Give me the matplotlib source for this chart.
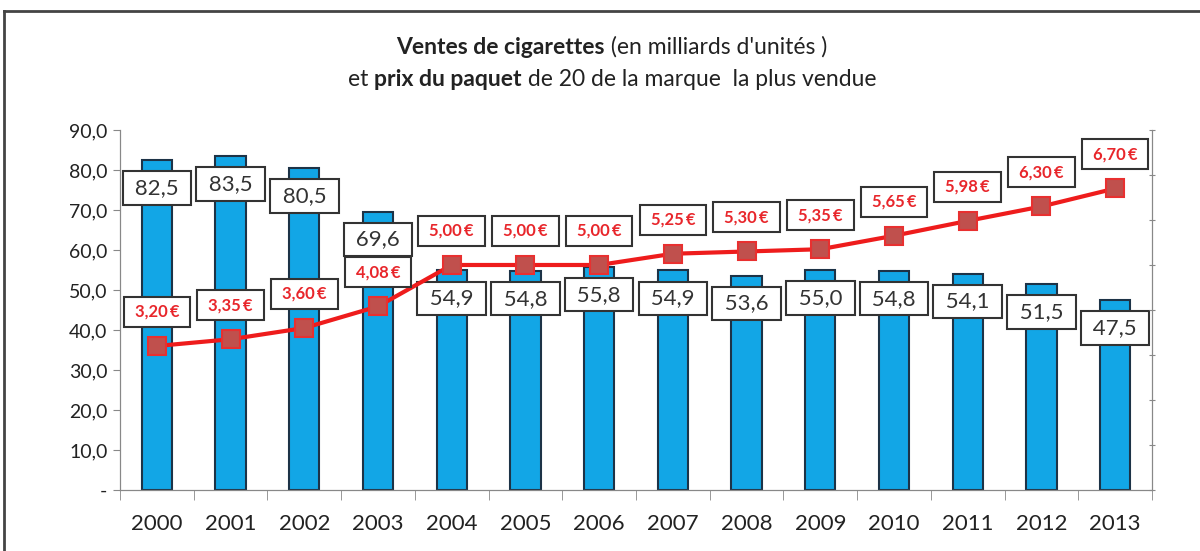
import matplotlib
matplotlib.use('Agg')
import matplotlib.pyplot as plt
from matplotlib.lines import Line2D
import numpy as np

annees = ['2000', '2001', '2002', '2003', '2004', '2005', '2006', '2007',
          '2008', '2009', '2010', '2011', '2012', '2013']
ventes = [82.5, 83.5, 80.5, 69.6, 54.9, 54.8, 55.8, 54.9, 53.6, 55.0, 54.8, 54.1, 51.5, 47.5]
prix = [3.20, 3.35, 3.60, 4.08, 5.00, 5.00, 5.00, 5.25, 5.30, 5.35, 5.65, 5.98, 6.30, 6.70]
yticks = [0, 10, 20, 30, 40, 50, 60, 70, 80, 90]

plt.rcParams['font.family'] = ['Lato', 'DejaVu Sans']

fig = plt.figure(figsize=(12, 5.51), dpi=100)
ax = fig.add_axes([0.1, 0.1107, 0.86, 0.6534])
ax2 = ax.twinx()

x = np.arange(len(annees))
ax.bar(x, ventes, width=0.41, color='#12a6e6', edgecolor='#1d3347', linewidth=1.5, zorder=2)
ax.set_xlim(-0.5, len(annees) - 0.5)
ax.set_ylim(0, 90)
ax.set_yticks(yticks)
ax.set_yticklabels(['-' if v == 0 else f'{v:.1f}'.replace('.', ',') for v in yticks], fontsize=14, color='#222222')
ax.set_xticks(x)
ax.set_xticklabels(annees, fontsize=16, color='#222222')
ax.tick_params(axis='x', which='major', length=0, pad=17)
ax.set_xticks(np.arange(-0.5, len(annees), 1), minor=True)
ax.tick_params(axis='x', which='minor', length=7, color='#888888', direction='out')
ax.tick_params(axis='y', length=5, color='#888888', pad=4)
for s in ['top']:
    ax.spines[s].set_visible(False)
    ax2.spines[s].set_visible(False)
for s in ['left', 'bottom', 'right']:
    ax.spines[s].set_color('#888888')
    ax2.spines[s].set_color('#888888')

ax2.plot(x, prix, color='#ee1c1c', linewidth=3, marker='s', markersize=13,
         markerfacecolor='#c0504d', markeredgecolor='#e83030', markeredgewidth=1.5, zorder=3)
ax2.set_ylim(0, 8)
ax2.set_yticks(range(9))
ax2.set_yticklabels([])
ax2.tick_params(axis='y', length=4, color='#888888', direction='inout')
ax.set_zorder(1)
ax2.set_zorder(2)
ax.patch.set_visible(False)

# etiquettes des ventes
for xi, v in zip(x, ventes):
    ax.annotate(' ' + f'{v:.1f}'.replace('.', ',') + ' ', (xi, v), xytext=(0, -28), textcoords='offset pixels',
                ha='center', va='center', fontsize=16, color='#333333', zorder=5,
                bbox=dict(boxstyle='square,pad=0.3', facecolor='white', edgecolor='#333333', linewidth=1.5))

# etiquettes des prix
for xi, p in zip(x, prix):
    ax2.annotate(' ' + f'{p:.2f}\u2009€'.replace('.', ',') + ' ', (xi, p), xytext=(0, 34), textcoords='offset pixels',
                 ha='center', va='center', fontsize=12, fontweight='bold', color='#e8262b', zorder=6,
                 bbox=dict(boxstyle='square,pad=0.42', facecolor='white', edgecolor='#333333', linewidth=1.5))

# titre avec parties en gras
fig.canvas.draw()
renderer = fig.canvas.get_renderer()
def titre(morceaux, y):
    textes = [fig.text(0, y, t, fontsize=16.5, fontweight=w, color='#222222', va='center') for t, w in morceaux]
    largeurs = [t.get_window_extent(renderer).width for t in textes]
    x0 = 612 - sum(largeurs) / 2
    for t, w in zip(textes, largeurs):
        t.set_x(x0 / 1200)
        x0 += w

titre([('Ventes de cigarettes', 'bold'), (" (en milliards d'unités )", 'normal')], 1 - 47 / 551)
titre([('et ', 'normal'), ('prix du paquet', 'bold'), (' de 20 de la marque  la plus vendue', 'normal')], 1 - 80 / 551)

# cadre
fig.add_artist(Line2D([4 / 1200, 1], [1 - 11 / 551, 1 - 11 / 551], color='#444444', linewidth=2))
fig.add_artist(Line2D([4 / 1200, 4 / 1200], [0, 1 - 11 / 551], color='#444444', linewidth=2))

fig.savefig('out.png', dpi=100)
